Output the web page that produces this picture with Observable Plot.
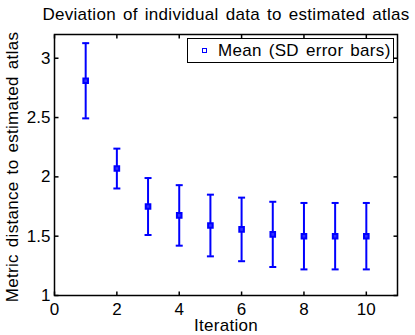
<!DOCTYPE html>
<html><head><meta charset="utf-8">
<script src="https://cdn.jsdelivr.net/npm/d3@7"></script>
<script src="https://cdn.jsdelivr.net/npm/@observablehq/plot@0.6"></script>
<style>
body{margin:0;background:#fff;}
#chart{position:relative;width:415px;height:335px;font-family:"Liberation Sans",Arial,sans-serif;}
#chart svg text.lbl{word-spacing:2px;letter-spacing:0.3px;}
#legend{position:absolute;left:187px;top:38px;width:205px;height:23px;border:1px solid #000;background:#fff;font-size:17px;line-height:24px;word-spacing:2px;letter-spacing:0.3px;box-sizing:content-box;}
#legend .sw{position:absolute;left:14px;top:9px;width:3px;height:3px;border:1px solid #0000ff;}
#legend .tx{position:absolute;left:30px;top:0;white-space:nowrap;}
</style></head><body><div id="chart"></div><script>
const titleText = "Deviation of individual data to estimated atlas";
const xLabel = "Iteration";
const yLabel = "Metric distance to estimated atlas";
const legendLabel = "Mean (SD error bars)";
const iterations = [1, 2, 3, 4, 5, 6, 7, 8, 9, 10];
const means = [2.81, 2.07, 1.75, 1.675, 1.59, 1.557, 1.515, 1.50, 1.50, 1.50];
const sds = [0.317, 0.168, 0.24, 0.255, 0.26, 0.268, 0.275, 0.28, 0.28, 0.28];
const xTicks = [0, 2, 4, 6, 8, 10];
const yTicks = [1, 1.5, 2, 2.5, 3];

const data = iterations.map((it, i) => ({x: it, m: means[i], lo: means[i] - sds[i], hi: means[i] + sds[i]}));
const blue = "#0000ff";
const T = 4;
const tickUp = {draw(c){c.moveTo(0,0);c.lineTo(0,-T);}};
const tickDown = {draw(c){c.moveTo(0,0);c.lineTo(0,T);}};
const tickRight = {draw(c){c.moveTo(0,0);c.lineTo(T,0);}};
const tickLeft = {draw(c){c.moveTo(0,0);c.lineTo(-T,0);}};
const cap = {draw(c){c.moveTo(-3.5,0);c.lineTo(3.5,0);}};

const plot = Plot.plot({
  width: 415, height: 335,
  marginLeft: 54, marginRight: 18, marginTop: 34, marginBottom: 40,
  style: {fontFamily: '"Liberation Sans", Arial, sans-serif', fontSize: "17px", color: "#000", background: "#fff"},
  x: {domain: [0, 11], label: null},
  y: {domain: [1, 3.2], label: null},
  marks: [
    Plot.axisX(xTicks, {tickSize: 0, tickPadding: 7, fontSize: 17, label: null, tickFormat: d => String(d)}),
    Plot.axisY(yTicks, {tickSize: 0, tickPadding: 4, fontSize: 17, label: null, tickFormat: d => String(d)}),
    Plot.ruleX(data, {x: "x", y1: "lo", y2: "hi", stroke: blue, strokeWidth: 2}),
    Plot.dot(data, {x: "x", y: "lo", symbol: cap, stroke: blue, strokeWidth: 2, fill: "none"}),
    Plot.dot(data, {x: "x", y: "hi", symbol: cap, stroke: blue, strokeWidth: 2, fill: "none"}),
    Plot.dot(data, {x: "x", y: "m", symbol: "square", r: 2.6, stroke: blue, strokeWidth: 2, fill: "#3030ff"}),
    Plot.dot(xTicks, {x: d => d, frameAnchor: "bottom", symbol: tickUp, stroke: "#000", fill: "none"}),
    Plot.dot(xTicks, {x: d => d, frameAnchor: "top", symbol: tickDown, stroke: "#000", fill: "none"}),
    Plot.dot(yTicks, {y: d => d, frameAnchor: "left", symbol: tickRight, stroke: "#000", fill: "none"}),
    Plot.dot(yTicks, {y: d => d, frameAnchor: "right", symbol: tickLeft, stroke: "#000", fill: "none"}),
    Plot.frame({stroke: "#000", strokeWidth: 1.5}),
    Plot.text([titleText], {frameAnchor: "top", textAnchor: "middle", lineAnchor: "middle", dy: -20, fontSize: 17, className: "lbl"}),
    Plot.text([xLabel], {frameAnchor: "bottom", textAnchor: "middle", lineAnchor: "middle", dy: 30.5, fontSize: 17, className: "lbl"}),
    Plot.text([yLabel], {frameAnchor: "left", textAnchor: "middle", lineAnchor: "middle", rotate: -90, dx: -42, dy: 2, fontSize: 17, className: "lbl"})
  ]
});
plot.querySelectorAll("g[aria-label='text'] text").forEach(t => t.classList.add("lbl"));
const chart = document.getElementById("chart");
chart.appendChild(plot);
const lg = document.createElement("div");
lg.id = "legend";
lg.innerHTML = '<div class="sw"></div><div class="tx"></div>';
lg.querySelector(".tx").textContent = legendLabel;
chart.appendChild(lg);
</script></body></html>
